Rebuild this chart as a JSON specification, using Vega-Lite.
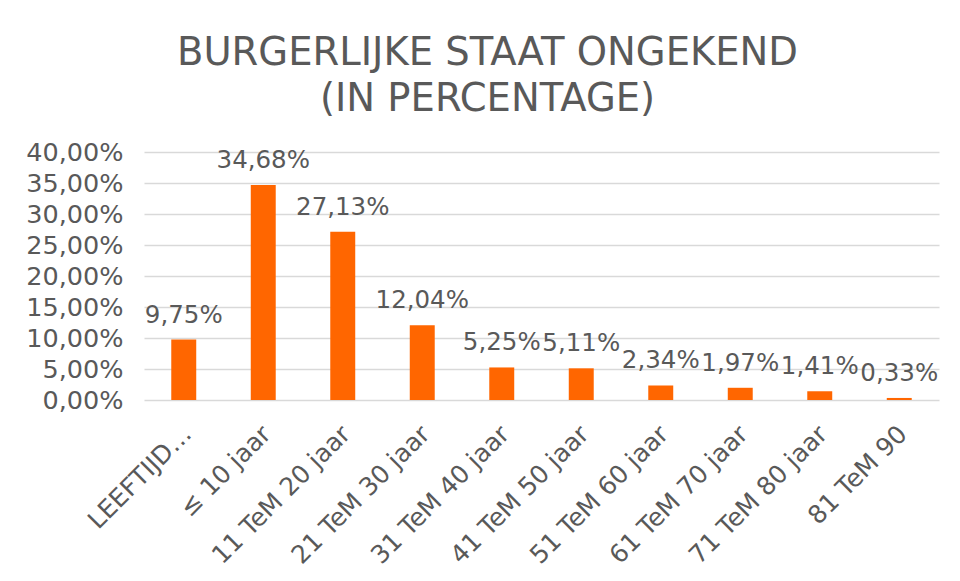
{
  "$schema": "https://vega.github.io/schema/vega-lite/v6.json",
  "autosize": "none",
  "width": 795,
  "height": 248,
  "padding": {"left": 144, "top": 152, "right": 21, "bottom": 181},
  "background": "white",
  "config": {
    "locale": {"number": {"decimal": ",", "thousands": ".", "grouping": [3], "currency": ["€", ""]}},
    "view": {"stroke": null},
    "font": "DejaVu Sans"
  },
  "title": {
    "text": ["BURGERLIJKE STAAT ONGEKEND", "(IN PERCENTAGE)"],
    "font": "DejaVu Sans",
    "fontSize": 38.5,
    "fontWeight": "normal",
    "color": "#595959",
    "lineHeight": 46,
    "anchor": "middle",
    "dx": -54,
    "offset": 21
  },
  "data": {
    "values": [
      {"leeftijd": "LEEFTIJD…", "pct": 0.0975},
      {"leeftijd": "≤ 10 jaar", "pct": 0.3468},
      {"leeftijd": "11 TeM 20 jaar", "pct": 0.2713},
      {"leeftijd": "21 TeM 30 jaar", "pct": 0.1204},
      {"leeftijd": "31 TeM 40 jaar", "pct": 0.0525},
      {"leeftijd": "41 TeM 50 jaar", "pct": 0.0511},
      {"leeftijd": "51 TeM 60 jaar", "pct": 0.0234},
      {"leeftijd": "61 TeM 70 jaar", "pct": 0.0197},
      {"leeftijd": "71 TeM 80 jaar", "pct": 0.0141},
      {"leeftijd": "81 TeM 90", "pct": 0.0033}
    ]
  },
  "encoding": {
    "x": {
      "field": "leeftijd",
      "type": "nominal",
      "sort": null,
      "scale": {"paddingInner": 0.686, "paddingOuter": 0.343},
      "axis": {
        "title": null,
        "labelAngle": -45,
        "labelAlign": "right",
        "labelBaseline": "top",
        "labelFontSize": 25,
        "labelColor": "#595959",
        "labelPadding": 21,
        "labelOffset": -5,
        "domain": false,
        "ticks": false,
        "labelLimit": 300
      }
    },
    "y": {
      "field": "pct",
      "type": "quantitative",
      "scale": {"domain": [0, 0.4]},
      "axis": {
        "title": null,
        "format": ".2%",
        "values": [0, 0.05, 0.1, 0.15, 0.2, 0.25, 0.3, 0.35, 0.4],
        "labelFontSize": 25.5,
        "labelColor": "#595959",
        "labelPadding": 21,
        "gridColor": "#D9D9D9",
        "gridWidth": 1.5,
        "domain": false,
        "ticks": false
      }
    }
  },
  "layer": [
    {"mark": {"type": "bar", "color": "#FF6600"}},
    {
      "mark": {"type": "text", "baseline": "bottom", "dy": -12, "fontSize": 24.5, "color": "#595959"},
      "encoding": {"text": {"field": "pct", "type": "quantitative", "format": ".2%"}}
    }
  ]
}
